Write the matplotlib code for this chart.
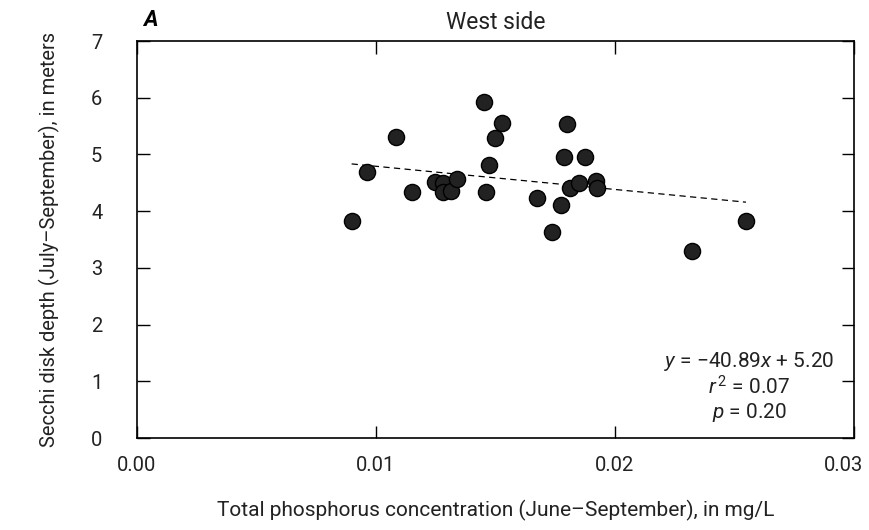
import matplotlib
matplotlib.use("Agg")
from matplotlib import pyplot as plt
from matplotlib.transforms import ScaledTranslation

# Total phosphorus (mg/L) vs Secchi depth (m), west side
tp = [0.00898, 0.00961, 0.01082, 0.01149, 0.01247, 0.01279, 0.01282, 0.01312,
      0.01338, 0.01453, 0.01462, 0.01473, 0.01499, 0.01529, 0.01672, 0.01736,
      0.01775, 0.01787, 0.01799, 0.01812, 0.01851, 0.01874, 0.01922, 0.01923,
      0.02324, 0.02548]
secchi = [3.83, 4.69, 5.30, 4.34, 4.51, 4.50, 4.33, 4.36,
          4.56, 5.93, 4.33, 4.81, 5.29, 5.56, 4.24, 3.64,
          4.11, 4.96, 5.54, 4.41, 4.50, 4.96, 4.53, 4.40,
          3.29, 3.83]
slope = -40.89
intercept = 5.20
r2 = 0.07
pval = 0.20

xticks = [0.00, 0.01, 0.02, 0.03]
yticks = [0, 1, 2, 3, 4, 5, 6, 7]

font = 'Roboto'
plt.rcParams['font.family'] = [font, 'DejaVu Sans']
plt.rcParams['mathtext.fontset'] = 'custom'
plt.rcParams['mathtext.rm'] = font
plt.rcParams['mathtext.it'] = font + ':italic'
plt.rcParams['axes.linewidth'] = 1.2

fig = plt.figure(figsize=(8.69, 5.30), dpi=100)
ax = fig.add_axes([137 / 869, 92 / 530, 717 / 869, 397 / 530])

ax.scatter(tp, secchi, s=135, facecolor='#222222', edgecolor='black',
           linewidth=1.0, zorder=3)

# regression line over the data range
x0, x1 = min(tp), max(tp)
ax.plot([x0, x1], [slope * x0 + intercept, slope * x1 + intercept],
        color='black', linestyle=(0, (5, 3.5)), linewidth=0.9, zorder=2)

ax.set_xlim(0, 0.03)
ax.set_ylim(0, 7)
ax.set_xticks(xticks)
ax.set_xticklabels([f'{t:.2f}' for t in xticks])
ax.set_yticks(yticks)
ax.tick_params(direction='in', length=9, width=1.0, labelsize=14.5,
               labelcolor='#222222', top=True, right=True)
ax.tick_params(axis='y', pad=25)
ax.tick_params(axis='x', pad=13)

# last x label nudged left so it stays inside the figure
last = ax.get_xticklabels()[-1]
last.set_transform(last.get_transform() + ScaledTranslation(-10 / 100, 0, fig.dpi_scale_trans))

ax.set_xlabel('Total phosphorus concentration (June\u2013September), in mg/L',
              fontsize=15, color='#222222', labelpad=18)
ax.set_ylabel('Secchi disk depth (July\u2013September), in meters',
              fontsize=14.5, color='#222222', labelpad=22)
ax.set_title('West side', fontsize=16.5, color='#222222', pad=9)
ax.text(0.008, 1.025, 'A', transform=ax.transAxes, fontsize=16,
        fontweight='bold', fontstyle='italic', ha='left', va='bottom')

eq = ('$\\it{y}$ = \u2212' + f'{abs(slope):.2f}' + '$\\it{x}$ + ' + f'{intercept:.2f}\n'
      + '$\\it{r}^{\\,2}$ = ' + f'{r2:.2f}\n'
      + '$\\it{p}$ = ' + f'{pval:.2f}')
ax.text(0.02562, 0.9, eq, fontsize=15, color='#222222', ha='center',
        va='center', multialignment='center', linespacing=1.12)

fig.savefig('out.png', dpi=100)
